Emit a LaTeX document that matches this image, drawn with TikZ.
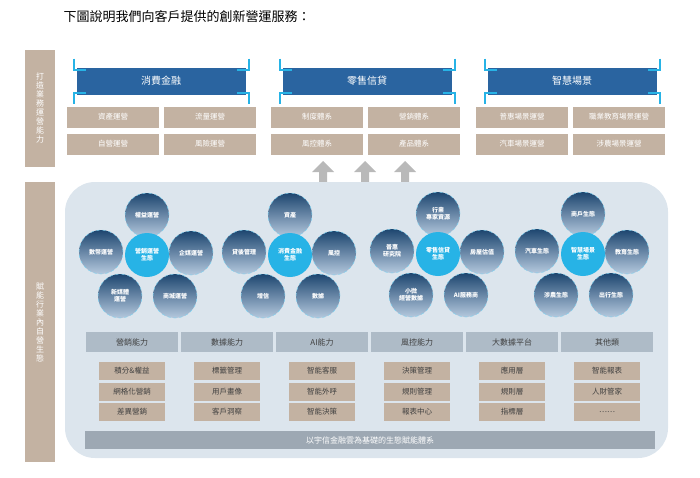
\documentclass[tikz,border=0pt]{standalone}
\usepackage{fontspec}
\setmainfont{Noto Sans CJK TC}
\begin{document}
\begin{tikzpicture}[x=1pt,y=-1pt,
 itm/.style={fill=tanc,draw=none,text=black!75,font=\fontsize{7.5}{8}\selectfont,minimum width=66pt,minimum height=18pt,inner sep=0},
 cat/.style={fill=catc,draw=none,text=black!75,font=\fontsize{8}{9}\selectfont,minimum width=92pt,minimum height=20pt,inner sep=0},
 hdr/.style={fill=hdrc,draw=white,line width=1pt,text=white,font=\fontsize{10}{11}\selectfont,minimum width=170pt,minimum height=28pt},
 sub/.style={fill=tanc,text=white,font=\fontsize{7.5}{8}\selectfont,minimum width=92pt,minimum height=21pt,inner sep=0},
 oc/.style={circle,minimum size=44pt,inner sep=0,text=white,align=center,font=\fontsize{6}{7}\selectfont\bfseries,top color=hdrc!70!black,bottom color=hdrc!35!white,draw=cyanc!60,dashed,line width=0.5pt},
 cc/.style={circle,minimum size=44pt,inner sep=0,text=white,align=center,font=\fontsize{6}{7}\selectfont\bfseries,fill=cyanc},
 arr/.style={fill=gray!55,draw=none}]
\definecolor{tanc}{HTML}{C3B2A2}
\definecolor{catc}{HTML}{AEBBC7}
\definecolor{hdrc}{HTML}{2A64A0}
\definecolor{cyanc}{HTML}{27B3E6}
\definecolor{panel}{HTML}{DCE5ED}
\useasboundingbox (0,0) rectangle (700,477);
\node[anchor=west,font=\fontsize{13}{14}\selectfont] (title) at (60,17) {下圖說明我們向客戶提供的創新營運服務：};
% side bars
\node[fill=tanc,minimum width=30pt,minimum height=117pt,inner sep=0,text=white,align=center,font=\fontsize{8}{9}\selectfont] (sb1) at (40,108) {打\\造\\業\\務\\運\\營\\能\\力};
\node[fill=tanc,minimum width=30pt,minimum height=280pt,inner sep=0,text=white,align=center,font=\fontsize{8}{9}\selectfont] (sb2) at (40,322) {賦\\能\\行\\業\\內\\自\\營\\生\\態};
% headers
\foreach \n/\x/\t in {h1/161/消費金融,h2/367/零售信貸,h3/572/智慧場景}{
 \node[hdr] (\n) at (\x,81) {\t};
 \draw[cyanc,line width=2pt] ([xshift=-2pt,yshift=8pt]\n.north west) -- ([xshift=-2pt,yshift=-3pt]\n.north west) -- ([xshift=10pt,yshift=-3pt]\n.north west);
 \draw[cyanc,line width=2pt] ([xshift=2pt,yshift=8pt]\n.north east) -- ([xshift=2pt,yshift=-3pt]\n.north east) -- ([xshift=-10pt,yshift=-3pt]\n.north east);
 \draw[cyanc,line width=2pt] ([xshift=-2pt,yshift=-8pt]\n.south west) -- ([xshift=-2pt,yshift=3pt]\n.south west) -- ([xshift=10pt,yshift=3pt]\n.south west);
 \draw[cyanc,line width=2pt] ([xshift=2pt,yshift=-8pt]\n.south east) -- ([xshift=2pt,yshift=3pt]\n.south east) -- ([xshift=-10pt,yshift=3pt]\n.south east);
}
\node[sub] (s1) at (113,117) {資產運營};
\node[sub] (s2) at (210,117) {流量運營};
\node[sub] (s3) at (113,144) {自營運營};
\node[sub] (s4) at (210,144) {風險運營};
\node[sub] (s5) at (317,117) {制度體系};
\node[sub] (s6) at (414,117) {營銷體系};
\node[sub] (s7) at (317,144) {風控體系};
\node[sub] (s8) at (414,144) {產品體系};
\node[sub] (s9) at (522,117) {普惠場景運營};
\node[sub] (s10) at (619,117) {職業教育場景運營};
\node[sub] (s11) at (522,144) {汽車場景運營};
\node[sub] (s12) at (619,144) {涉農場景運營};
% arrows
\foreach \x in {323,365,405}{
 \fill[arr] (\x-4,185) -- (\x-4,172) -- (\x-11,172) -- (\x,161) -- (\x+11,172) -- (\x+4,172) -- (\x+4,185) -- cycle;}
% panel
\fill[panel,rounded corners=30pt] (65,182) rectangle (668,458);
% clusters
\newcommand{\clus}[8]{%
 \node[oc] at (#1,#2-40) {#4};
 \node[oc] at (#1-46,#2-3) {#5};
 \node[oc] at (#1+44,#2-2) {#6};
 \node[oc] at (#1-27,#2+41) {#7};
 \node[oc] at (#1+28,#2+41) {#8};
 \node[cc] at (#1,#2) {#3};}
\clus{147}{255}{營銷運營\\生態}{權益運營}{數幣運營}{企媒運營}{新媒體\\運營}{商城運營}
\clus{290}{255}{消費金融\\生態}{資產}{貸後管理}{風控}{增信}{數據}
\clus{438}{254}{零售信貸\\生態}{行業\\專家資源}{普惠\\研究院}{房屋估值}{小微\\經營數據}{AI服務商}
\clus{583}{254}{智慧場景\\生態}{商戶生態}{汽車生態}{教育生態}{涉農生態}{出行生態}
% categories
\foreach \i/\x/\c/\a/\b/\dd in {1/132/營銷能力/積分\&權益/網格化營銷/差異營銷,2/227/數據能力/標籤管理/用戶畫像/客戶洞察,3/322/AI能力/智能客服/智能外呼/智能決策,4/417/風控能力/決策管理/規則管理/報表中心,5/512/大數據平台/應用層/規則層/指標層,6/607/其他類/智能報表/人財管家/{\ldots\ldots}}{
 \node[cat] (c\i) at (\x,342) {\c};
 \node[itm] (a\i) at (\x,371) {\a};
 \node[itm] (b\i) at (\x,391.5) {\b};
 \node[itm] (d\i) at (\x,412) {\dd};}
\node[fill=catc!90!black,minimum width=570pt,minimum height=18pt,inner sep=0,text=white,font=\fontsize{8}{9}\selectfont] (base) at (370,440) {以宇信金融雲為基礎的生態賦能體系};
\end{tikzpicture}
\end{document}
